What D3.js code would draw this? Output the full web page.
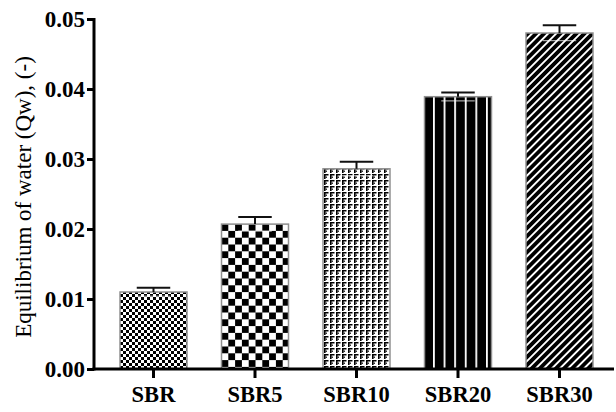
<!DOCTYPE html>
<html>
<head>
<meta charset="utf-8">
<script src="https://cdn.jsdelivr.net/npm/d3@7"></script>
<style>
  html, body { margin: 0; padding: 0; background: #fff; }
  svg { display: block; }
</style>
</head>
<body>
<svg id="chart" width="616" height="412"></svg>
<script>
// Equilibrium water uptake per compound
const categories = ["SBR", "SBR5", "SBR10", "SBR20", "SBR30"];
const means = [0.0110, 0.0207, 0.0286, 0.0389, 0.0480];
const errors = [0.0006, 0.0010, 0.0010, 0.0006, 0.0011];
const yTicks = [0.00, 0.01, 0.02, 0.03, 0.04, 0.05];
const patternIds = ["fineChecker", "bigChecker", "corners", "vStripes", "diagStripes"];

const svg = d3.select("#chart");
const axisX = 94, plotTop = 19, plotBottom = 369, plotRight = 614;

const x = d3.scaleBand()
  .domain(categories)
  .range([102.75, 610.25])
  .paddingInner(0.34)
  .paddingOuter(0.17);

const y = d3.scaleLinear()
  .domain([0, 0.05])
  .range([plotBottom, plotTop]);

// fill patterns
const defs = svg.append("defs");

const p1 = defs.append("pattern").attr("id", "fineChecker")
  .attr("patternUnits", "userSpaceOnUse").attr("width", 6).attr("height", 6);
p1.append("rect").attr("width", 6).attr("height", 6).attr("fill", "#fff");
p1.append("rect").attr("width", 3).attr("height", 3).attr("fill", "#000");
p1.append("rect").attr("x", 3).attr("y", 3).attr("width", 3).attr("height", 3).attr("fill", "#000");

const p2 = defs.append("pattern").attr("id", "bigChecker")
  .attr("patternUnits", "userSpaceOnUse").attr("width", 13.6).attr("height", 13.6)
  .attr("x", x("SBR5")).attr("y", y(means[1]));
p2.append("rect").attr("width", 13.6).attr("height", 13.6).attr("fill", "#fff");
p2.append("rect").attr("width", 6.8).attr("height", 6.8).attr("fill", "#000");
p2.append("rect").attr("x", 6.8).attr("y", 6.8).attr("width", 6.8).attr("height", 6.8).attr("fill", "#000");

const p3 = defs.append("pattern").attr("id", "corners")
  .attr("patternUnits", "userSpaceOnUse").attr("width", 6).attr("height", 6);
p3.append("rect").attr("width", 6).attr("height", 6).attr("fill", "#fff");
p3.append("rect").attr("width", 4.5).attr("height", 1.5).attr("fill", "#000");
p3.append("rect").attr("width", 1.6).attr("height", 5).attr("fill", "#000");
p3.append("rect").attr("x", 1.6).attr("y", 2.6).attr("width", 1.4).attr("height", 1.2).attr("fill", "#000");

const p4 = defs.append("pattern").attr("id", "vStripes")
  .attr("patternUnits", "userSpaceOnUse").attr("width", 10.6).attr("height", 4)
  .attr("x", x("SBR20") + 8.5);
p4.append("rect").attr("width", 10.6).attr("height", 4).attr("fill", "#000");
p4.append("rect").attr("width", 1.8).attr("height", 4).attr("fill", "#fff");

const p5 = defs.append("pattern").attr("id", "diagStripes")
  .attr("patternUnits", "userSpaceOnUse").attr("width", 5.7).attr("height", 6)
  .attr("patternTransform", "rotate(45)");
p5.append("rect").attr("width", 5.7).attr("height", 6).attr("fill", "#000");
p5.append("rect").attr("width", 1.9).attr("height", 6).attr("fill", "#fff");

// bars
svg.append("g").selectAll("rect")
  .data(categories)
  .join("rect")
  .attr("x", d => x(d))
  .attr("y", (d, i) => y(means[i]))
  .attr("width", x.bandwidth())
  .attr("height", (d, i) => y(0) - y(means[i]))
  .attr("fill", (d, i) => `url(#${patternIds[i]})`)
  .attr("stroke", "#909090")
  .attr("stroke-width", 1.5);

// error bars
const eb = svg.append("g").selectAll("g")
  .data(categories)
  .join("g");
const capHalf = x.bandwidth() / 4;
eb.append("line")
  .attr("x1", d => x(d) + x.bandwidth() / 2)
  .attr("x2", d => x(d) + x.bandwidth() / 2)
  .attr("y1", (d, i) => y(means[i]))
  .attr("y2", (d, i) => y(means[i] + errors[i]))
  .attr("stroke", "#111").attr("stroke-width", 2);
eb.append("line")
  .attr("x1", d => x(d) + x.bandwidth() / 2 - capHalf)
  .attr("x2", d => x(d) + x.bandwidth() / 2 + capHalf)
  .attr("y1", (d, i) => y(means[i] + errors[i]))
  .attr("y2", (d, i) => y(means[i] + errors[i]))
  .attr("stroke", "#111").attr("stroke-width", 2);
eb.append("line")
  .attr("x1", d => x(d) + x.bandwidth() / 2 - capHalf)
  .attr("x2", d => x(d) + x.bandwidth() / 2 + capHalf)
  .attr("y1", (d, i) => y(means[i] - errors[i]))
  .attr("y2", (d, i) => y(means[i] - errors[i]))
  .attr("stroke", "#fff").attr("stroke-width", 1).attr("stroke-opacity", 0.8);

// axes
const font = "'Liberation Serif', 'Times New Roman', serif";

const yAxis = svg.append("g")
  .attr("transform", `translate(${axisX},0)`)
  .call(d3.axisLeft(y).tickValues(yTicks).tickFormat(d3.format(".2f")).tickSize(7).tickSizeOuter(0));
yAxis.select(".domain").remove();
yAxis.selectAll(".tick line").attr("stroke", "#000").attr("stroke-width", 3);
yAxis.selectAll(".tick text")
  .attr("x", -9)
  .attr("font-family", font).attr("font-weight", "bold").attr("font-size", 23)
  .attr("fill", "#000");

const xAxis = svg.append("g")
  .attr("transform", `translate(0,${plotBottom})`)
  .call(d3.axisBottom(x).tickSize(9).tickSizeOuter(0));
xAxis.select(".domain").remove();
xAxis.selectAll(".tick line").attr("stroke", "#000").attr("stroke-width", 3);
xAxis.selectAll(".tick text")
  .attr("y", 17)
  .attr("font-family", font).attr("font-weight", "bold").attr("font-size", 22.5)
  .attr("fill", "#000");

// axis lines
svg.append("line")
  .attr("x1", axisX).attr("x2", axisX)
  .attr("y1", plotTop - 1).attr("y2", plotBottom + 1.5)
  .attr("stroke", "#000").attr("stroke-width", 3);
svg.append("line")
  .attr("x1", axisX - 1.5).attr("x2", plotRight)
  .attr("y1", plotBottom).attr("y2", plotBottom)
  .attr("stroke", "#000").attr("stroke-width", 3);

// y-axis title
svg.append("text")
  .attr("transform", `translate(31,${(plotTop + plotBottom) / 2 + 3}) rotate(-90)`)
  .attr("text-anchor", "middle")
  .attr("font-family", font).attr("font-size", 23)
  .attr("fill", "#000")
  .text("Equilibrium of water (Qw), (-)");
</script>
</body>
</html>
